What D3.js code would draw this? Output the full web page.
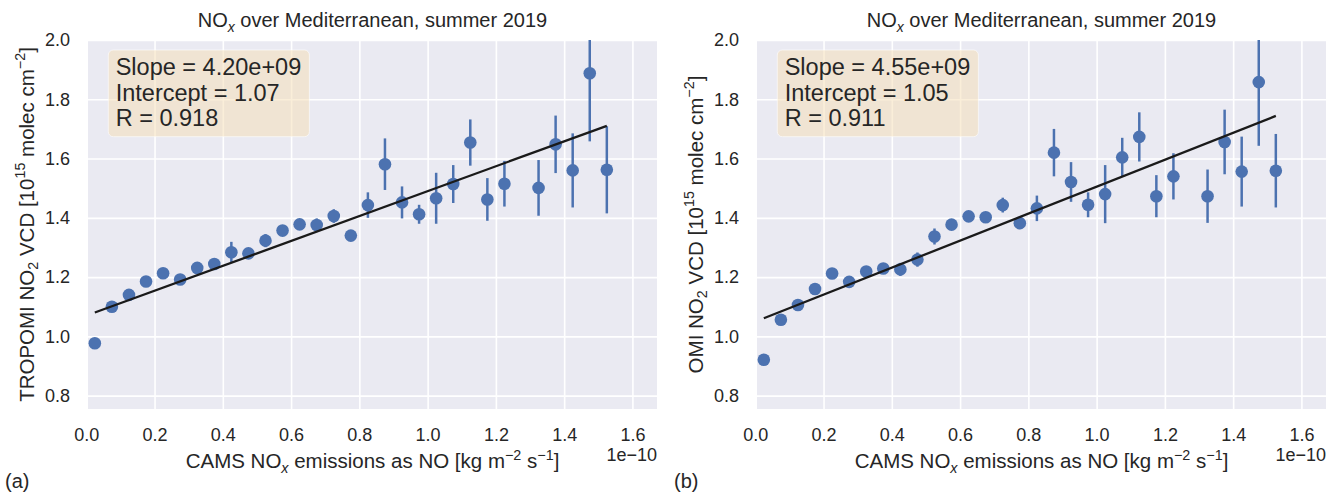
<!DOCTYPE html>
<html>
<head>
<meta charset="utf-8">
<script src="https://cdn.jsdelivr.net/npm/d3@7"></script>
<style>
  html, body { margin: 0; padding: 0; background: #fff; }
  svg { display: block; font-family: "Liberation Sans", Arial, sans-serif; }
</style>
</head>
<body>
<div id="chart"></div>
<script>
// emission bin centres, units of 1e-10 kg m-2 s-1
const xBins = [0.025, 0.075, 0.125, 0.175, 0.225, 0.275, 0.325, 0.375, 0.425, 0.475,
  0.525, 0.575, 0.625, 0.675, 0.725, 0.775, 0.825, 0.875, 0.925, 0.975,
  1.025, 1.075, 1.125, 1.175, 1.225, 1.325, 1.375, 1.425, 1.475, 1.525];

const tropomiVcd = [0.977, 1.100, 1.140, 1.185, 1.213, 1.192, 1.231, 1.244, 1.284, 1.280,
  1.323, 1.357, 1.378, 1.376, 1.406, 1.340, 1.443, 1.581, 1.452, 1.412,
  1.466, 1.514, 1.654, 1.462, 1.515, 1.501, 1.648, 1.560, 1.888, 1.562];
const tropomiErr = [0.005, 0.005, 0.006, 0.007, 0.008, 0.008, 0.010, 0.012, 0.035, 0.012,
  0.022, 0.012, 0.012, 0.022, 0.023, 0.010, 0.043, 0.087, 0.054, 0.032,
  0.086, 0.064, 0.078, 0.072, 0.077, 0.094, 0.097, 0.125, 0.230, 0.147];

const omiVcd = [0.921, 1.056, 1.106, 1.160, 1.212, 1.184, 1.219, 1.229, 1.226, 1.259,
  1.337, 1.377, 1.405, 1.402, 1.443, 1.382, 1.432, 1.620, 1.521, 1.444,
  1.480, 1.604, 1.673, 1.473, 1.540, 1.473, 1.656, 1.556, 1.858, 1.559];
const omiErr = [0.005, 0.006, 0.007, 0.008, 0.008, 0.010, 0.010, 0.012, 0.022, 0.024,
  0.027, 0.013, 0.015, 0.016, 0.025, 0.020, 0.043, 0.080, 0.067, 0.042,
  0.098, 0.066, 0.083, 0.071, 0.078, 0.090, 0.109, 0.118, 0.215, 0.124];

const fitSlope = [4.20e9, 4.55e9];
const fitIntercept = [1.07, 1.05];
const fitR = [0.918, 0.911];

const xTicks = [0.0, 0.2, 0.4, 0.6, 0.8, 1.0, 1.2, 1.4, 1.6];
const yTicks = [0.8, 1.0, 1.2, 1.4, 1.6, 1.8, 2.0];

const WIDTH = 1330;
const HEIGHT = 497;
const PLOT_W = 569;
const PLOT_TOP = 40;
const PLOT_BOTTOM = 409;
const TEXT = "#262626";
const POINT = "#4C72B0";
const BG = "#EAEAF2";

const svg = d3.select("#chart").append("svg")
  .attr("width", WIDTH)
  .attr("height", HEIGHT);

// parts: [text, "sub" | "sup" | undefined, italic]
function rich(sel, parts, size) {
  let cur = 0;
  parts.forEach(([t, kind, italic]) => {
    const off = kind === "sup" ? -0.4 * size : kind === "sub" ? 0.24 * size : 0;
    const ts = sel.append("tspan").text(t).attr("dy", off - cur);
    if (kind) ts.attr("font-size", size * 0.7);
    if (italic) ts.attr("font-style", "italic");
    cur = off;
  });
}

function drawPanel(i, left, vcd, err, yLabelParts, tag) {
  const x = d3.scaleLinear().domain([0.005, 1.672]).range([left, left + PLOT_W]);
  const y = d3.scaleLinear().domain([0.755, 2.0]).range([PLOT_BOTTOM, PLOT_TOP]);

  const g = svg.append("g");

  g.append("rect")
    .attr("x", left)
    .attr("y", PLOT_TOP)
    .attr("width", PLOT_W)
    .attr("height", PLOT_BOTTOM - PLOT_TOP)
    .attr("fill", BG);

  const clipId = "clip" + i;
  g.append("clipPath").attr("id", clipId)
    .append("rect")
    .attr("x", left)
    .attr("y", PLOT_TOP)
    .attr("width", PLOT_W)
    .attr("height", PLOT_BOTTOM - PLOT_TOP);

  const xAxis = g.append("g")
    .attr("transform", `translate(0,${PLOT_BOTTOM})`)
    .call(d3.axisBottom(x).tickValues(xTicks).tickFormat(d3.format(".1f"))
      .tickSize(-(PLOT_BOTTOM - PLOT_TOP)).tickPadding(19));
  const yAxis = g.append("g")
    .attr("transform", `translate(${left},0)`)
    .call(d3.axisLeft(y).tickValues(yTicks).tickFormat(d3.format(".1f"))
      .tickSize(-PLOT_W).tickPadding(18));

  [xAxis, yAxis].forEach((a) => {
    a.select(".domain").remove();
    a.selectAll(".tick line").attr("stroke", "#fff").attr("stroke-width", 1.6);
    a.selectAll(".tick text")
      .attr("fill", TEXT)
      .attr("font-size", 18)
      .attr("font-family", "Liberation Sans, Arial, sans-serif");
  });
  // 0.0 sits just left of the plot edge, no grid line there
  xAxis.selectAll(".tick").filter((d) => x(d) < left - 0.5)
    .select("line").remove();

  const plot = g.append("g").attr("clip-path", `url(#${clipId})`);

  plot.selectAll("line.err")
    .data(xBins)
    .join("line")
    .attr("class", "err")
    .attr("x1", (d) => x(d))
    .attr("x2", (d) => x(d))
    .attr("y1", (d, j) => y(vcd[j] - err[j]))
    .attr("y2", (d, j) => y(vcd[j] + err[j]))
    .attr("stroke", POINT)
    .attr("stroke-width", 2.5);

  plot.selectAll("circle")
    .data(xBins)
    .join("circle")
    .attr("cx", (d) => x(d))
    .attr("cy", (d, j) => y(vcd[j]))
    .attr("r", 6.3)
    .attr("fill", POINT);

  const x0 = xBins[0];
  const x1 = xBins[xBins.length - 1];
  const fit = (v) => fitIntercept[i] + fitSlope[i] * v * 1e-10;
  plot.append("line")
    .attr("x1", x(x0))
    .attr("y1", y(fit(x0)))
    .attr("x2", x(x1))
    .attr("y2", y(fit(x1)))
    .attr("stroke", "#1a1a1a")
    .attr("stroke-width", 2.3);

  // stats box
  const box = g.append("g");
  const boxRect = box.append("rect");
  const boxText = box.append("text")
    .attr("font-size", 23.5)
    .attr("fill", TEXT);
  const lines = [
    `Slope = ${fitSlope[i].toExponential(2).replace("e+", "e+0")}`,
    `Intercept = ${fitIntercept[i].toFixed(2)}`,
    `R = ${fitR[i].toFixed(3)}`,
  ];
  lines.forEach((t, k) => {
    boxText.append("tspan")
      .attr("x", left + 27.7)
      .attr("y", 75 + k * 25.5)
      .text(t);
  });
  const bb = boxText.node().getBBox();
  boxRect
    .attr("x", left + 20.3)
    .attr("y", 50)
    .attr("width", bb.width + 15.5)
    .attr("height", 86.7)
    .attr("rx", 5)
    .attr("fill", "rgba(245,222,179,0.5)")
    .attr("stroke", "rgba(255,255,255,0.6)")
    .attr("stroke-width", 1);

  const cx = left + PLOT_W / 2;

  const title = g.append("text")
    .attr("x", cx)
    .attr("y", 27)
    .attr("text-anchor", "middle")
    .attr("font-size", 20)
    .attr("fill", TEXT);
  rich(title, [["NO"], ["x", "sub", true], [" over Mediterranean, summer 2019"]], 20);

  const xl = g.append("text")
    .attr("x", cx)
    .attr("y", 468)
    .attr("text-anchor", "middle")
    .attr("font-size", 20.5)
    .attr("fill", TEXT);
  rich(xl, [["CAMS NO"], ["x", "sub", true], [" emissions as NO [kg m"], ["\u22122", "sup"],
    [" s"], ["\u22121", "sup"], ["]"]], 20.5);

  const yl = g.append("text")
    .attr("transform", `translate(${left - 54.5},${(PLOT_TOP + PLOT_BOTTOM) / 2}) rotate(-90)`)
    .attr("text-anchor", "middle")
    .attr("font-size", 20.5)
    .attr("fill", TEXT);
  rich(yl, yLabelParts, 20.5);

  g.append("text")
    .attr("x", left + PLOT_W)
    .attr("y", 461)
    .attr("text-anchor", "end")
    .attr("font-size", 18)
    .attr("fill", TEXT)
    .text("1e\u221210");

  g.append("text")
    .attr("x", left - 83)
    .attr("y", 488)
    .attr("font-size", 20)
    .attr("fill", TEXT)
    .text(tag);
}

const yTail = [[" VCD [10"], ["15", "sup"], [" molec cm"], ["\u22122", "sup"], ["]"]];
drawPanel(0, 88, tropomiVcd, tropomiErr, [["TROPOMI NO"], ["2", "sub"], ...yTail], "(a)");
drawPanel(1, 757, omiVcd, omiErr, [["OMI NO"], ["2", "sub"], ...yTail], "(b)");
</script>
</body>
</html>
